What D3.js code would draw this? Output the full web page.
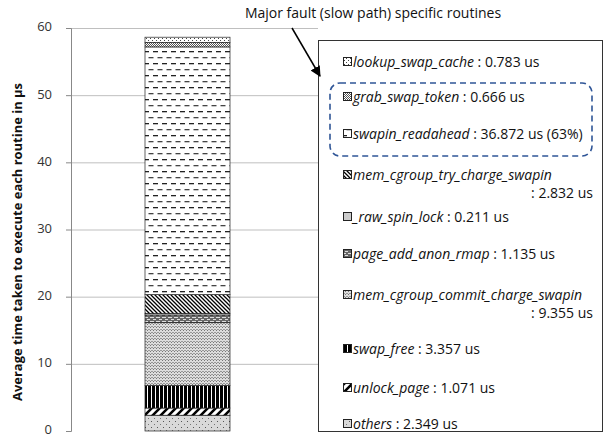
<!DOCTYPE html>
<html><head><meta charset="utf-8">
<script src="https://cdn.jsdelivr.net/npm/d3@7"></script>
<style>body{margin:0;background:#fff}svg{display:block;font-family:"Open Sans",sans-serif}</style>
</head><body><svg id="c" width="608" height="437"></svg>
<script>
const routines = ["lookup_swap_cache","grab_swap_token","swapin_readahead","mem_cgroup_try_charge_swapin","_raw_spin_lock","page_add_anon_rmap","mem_cgroup_commit_charge_swapin","swap_free","unlock_page","others"];
const times = [0.783,0.666,36.872,2.832,0.211,1.135,9.355,3.357,1.071,2.349];
const valueLabels = [": 0.783 us",": 0.666 us",": 36.872 us (63%)",": 2.832 us",": 0.211 us",": 1.135 us",": 9.355 us",": 3.357 us",": 1.071 us",": 2.349 us"];
const yTicks = [0,10,20,30,40,50,60];

const FONT = "'Open Sans',sans-serif";
const svg = d3.select("#c");
const defs = svg.append("defs");
function pat(id,w,h,bg,draw){const p=defs.append("pattern").attr("id",id).attr("patternUnits","userSpaceOnUse").attr("width",w).attr("height",h);
 p.append("rect").attr("width",w).attr("height",h).attr("fill",bg); draw(p);}
pat("p0",4,4,"#fff",p=>{p.append("rect").attr("x",0).attr("y",0).attr("width",1).attr("height",1).attr("fill","#444");p.append("rect").attr("x",2).attr("y",2).attr("width",1).attr("height",1).attr("fill","#444");});
pat("p1",2,2,"#fff",p=>{p.append("rect").attr("width",1).attr("height",1).attr("fill","#555");p.append("rect").attr("x",1).attr("y",1).attr("width",1).attr("height",1).attr("fill","#555");});
pat("p2",9,12,"#fff",p=>{p.append("rect").attr("x",0).attr("y",3).attr("width",5).attr("height",1.3).attr("fill","#222");p.append("rect").attr("x",4.5).attr("y",9).attr("width",5).attr("height",1.3).attr("fill","#444");p.append("rect").attr("x",-4.5).attr("y",9).attr("width",5).attr("height",1.3).attr("fill","#444");});
pat("p3",4,4,"#fff",p=>{p.append("path").attr("d","M-1,-1L5,5M-1,3L1,5M3,-1L5,1").attr("stroke","#000").attr("stroke-width",1.3);});
pat("p4",4,4,"#ccc",p=>{});
pat("p5",6,4,"#666",p=>{p.append("rect").attr("x",0).attr("y",1).attr("width",4).attr("height",1).attr("fill","#ddd");p.append("rect").attr("x",3).attr("y",3).attr("width",4).attr("height",1).attr("fill","#ddd");});
pat("p6",3,3,"#ddd",p=>{p.append("rect").attr("width",1).attr("height",1).attr("fill","#777");p.append("rect").attr("x",1).attr("y",2).attr("width",2).attr("height",1).attr("fill","#999");});
pat("p7",4,4,"#000",p=>{p.append("rect").attr("x",3).attr("width",1).attr("height",4).attr("fill","#fff");});
pat("p8",8,8,"#fff",p=>{p.append("path").attr("d","M0,8L8,0M-2,2L2,-2M6,10L10,6").attr("stroke","#000").attr("stroke-width",2.6);});
pat("p9",6,6,"#d9d9d9",p=>{p.append("rect").attr("x",1).attr("y",1).attr("width",1).attr("height",1).attr("fill","#555");p.append("rect").attr("x",4).attr("y",4).attr("width",1).attr("height",1).attr("fill","#777");});

const y = d3.scaleLinear().domain([0,60]).range([431,28]);

// gridlines
svg.append("g").selectAll("line").data(yTicks.slice(1)).join("line")
 .attr("x1",71).attr("x2",318).attr("y1",d=>y(d)+0.5).attr("y2",d=>y(d)+0.5).attr("stroke","#bfbfbf").attr("stroke-width",1);

const ax = svg.append("g").attr("transform","translate(71,0)").call(d3.axisLeft(y).tickValues(yTicks).tickSize(5).tickPadding(14));
ax.select(".domain").attr("stroke","#888").attr("d","M-5,431.5H0.5V28.5H-5");
ax.selectAll(".tick line").attr("stroke","#888");
ax.selectAll(".tick text").attr("font-size",13).attr("fill","#333").attr("font-family",FONT).attr("dy","0.22em");

svg.append("text").attr("transform","translate(22,242) rotate(-90)").attr("text-anchor","middle")
 .attr("font-size",11.5).attr("font-weight","bold").attr("fill","#111")
 .attr("textLength",318).attr("lengthAdjust","spacingAndGlyphs").text("Average time taken to execute each routine in µs");

// stacked bar (bottom = last in list)
const order = d3.range(routines.length).reverse();
let cum = 0; const segs=[];
order.forEach(i=>{segs.push({i,y0:cum,y1:cum+times[i]}); cum+=times[i];});
svg.append("g").selectAll("rect").data(segs).join("rect")
 .attr("x",145).attr("width",85)
 .attr("y",d=>y(d.y1)).attr("height",d=>y(d.y0)-y(d.y1))
 .attr("fill",d=>`url(#p${d.i})`).attr("stroke","#222").attr("stroke-width",0.7);

// legend box
svg.append("rect").attr("x",318.5).attr("y",40.5).attr("width",284).attr("height",391).attr("fill","#fff").attr("stroke","#333").attr("stroke-width",1);
const rowY = [67,102,139,180,222,259,300,354,393,429];
const lg = svg.append("g");
routines.forEach((r,i)=>{
 const g = lg.append("g");
 g.append("rect").attr("x",343.5).attr("y",rowY[i]-9.5).attr("width",8).attr("height",8).attr("fill",`url(#p${i})`).attr("stroke","#222").attr("stroke-width",1);
 const t = g.append("text").attr("x",353).attr("y",rowY[i]).attr("font-size",14).attr("fill","#111").attr("font-family",FONT);
 t.append("tspan").attr("font-style","italic").text(r);
 if(i===3||i===6){
   g.append("text").attr("x",593).attr("y",rowY[i]+18).attr("text-anchor","end").attr("font-size",14).attr("fill","#111").attr("font-family",FONT).text(valueLabels[i]);
 } else {
   t.append("tspan").text(" "+valueLabels[i]);
 }
});

// dashed highlight
svg.append("rect").attr("x",330).attr("y",83).attr("width",262).attr("height",73).attr("rx",10)
 .attr("fill","none").attr("stroke","#2f5597").attr("stroke-width",1.6).attr("stroke-dasharray","6,4");

// annotation
svg.append("text").attr("x",373).attr("y",18).attr("text-anchor","middle").attr("font-size",14).attr("fill","#111").attr("font-family",FONT).text("Major fault (slow path) specific routines");
defs.append("marker").attr("id","ah").attr("viewBox","0 0 10 10").attr("refX",9).attr("refY",5).attr("markerWidth",7).attr("markerHeight",7).attr("orient","auto")
 .append("path").attr("d","M0,0L10,5L0,10z").attr("fill","#000");
svg.append("line").attr("x1",292).attr("y1",28).attr("x2",320).attr("y2",76).attr("stroke","#000").attr("stroke-width",1.5).attr("marker-end","url(#ah)");
</script></body></html>
